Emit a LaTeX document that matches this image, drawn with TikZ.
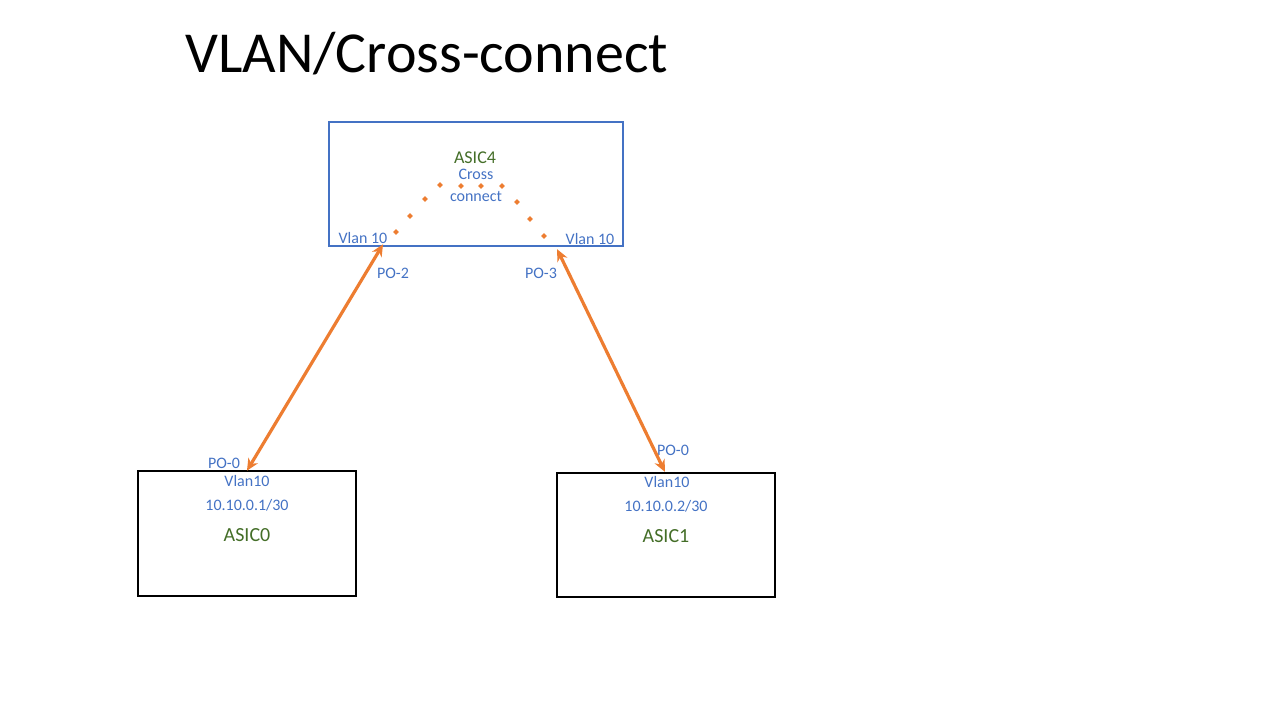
\documentclass[tikz,border=0pt]{standalone}
\usepackage{fontspec}
\setmainfont{Carlito}
\usetikzlibrary{arrows.meta}
\definecolor{oblue}{RGB}{68,114,196}
\definecolor{ogreen}{RGB}{68,110,40}
\definecolor{oorange}{RGB}{237,125,49}
\tikzset{
  bluetxt/.style={text=oblue,font=\fontsize{16}{18}\selectfont,inner sep=0pt},
  greentxt/.style={text=ogreen,font=\fontsize{20}{22}\selectfont,inner sep=0pt},
  asicbox/.style={draw=black,line width=1.3pt,inner sep=0pt},
  link/.style={draw=oorange,line width=3.2pt,{Stealth[length=12pt,width=11pt]}-{Stealth[length=12pt,width=11pt]},shorten <=-2pt,shorten >=-2pt},
  dot/.style={fill=oorange,minimum size=4pt,inner sep=0pt,shape=rectangle,rotate=45}
}
\begin{document}
\begin{tikzpicture}[x=1pt,y=-1pt]
\useasboundingbox (0,0) rectangle (1280,720);
\node[anchor=base west,inner sep=0pt,font=\fontsize{58}{62}\selectfont] (title) at (185,72) {VLAN/Cross-connect};
% ASIC4
\node[draw=oblue,line width=1.2pt,minimum width=294pt,minimum height=124pt,inner sep=0pt] (a4) at (476,184) {};
\node[greentxt,font=\fontsize{18}{20}\selectfont] (a4t) at (475,158) {ASIC4};
\node[bluetxt] (cr) at (476,174) {Cross};
\node[bluetxt] (cn) at (476,196) {connect};
\node[bluetxt] (vl) at (363,238) {Vlan 10};
\node[bluetxt] (vr) at (590,239) {Vlan 10};
\node[bluetxt] (po2) at (393,273) {PO-2};
\node[bluetxt] (po3) at (541,273) {PO-3};
\foreach \i/\x/\y in {1/396/232,2/410/216,3/425/199,4/440/185,5/461/186,6/481/186,7/502/186,8/517/202,9/530/219,10/544/236}
  \node[dot] (d\i) at (\x,\y) {};
% ASIC0
\node[asicbox,minimum width=218pt,minimum height=125pt] (a0) at (247,533.5) {};
\node[bluetxt] (po0a) at (224,463) {PO-0};
\node[bluetxt] (v0) at (247,481) {Vlan10};
\node[bluetxt] (ip0) at (247,505) {10.10.0.1/30};
\node[greentxt] (a0t) at (247,535) {ASIC0};
% ASIC1
\node[asicbox,minimum width=218pt,minimum height=124pt] (a1) at (666,535) {};
\node[bluetxt] (po0b) at (673,450) {PO-0};
\node[bluetxt] (v1) at (667,482) {Vlan10};
\node[bluetxt] (ip1) at (666,506) {10.10.0.2/30};
\node[greentxt] (a1t) at (666,536) {ASIC1};
% links
\coordinate (l0) at (248,469);
\coordinate (l4) at (382,246);
\coordinate (r4) at (558,251);
\coordinate (r1) at (664,470);
\draw[link] (l0) -- (l4);
\draw[link] (r4) -- (r1);
\end{tikzpicture}
\end{document}
